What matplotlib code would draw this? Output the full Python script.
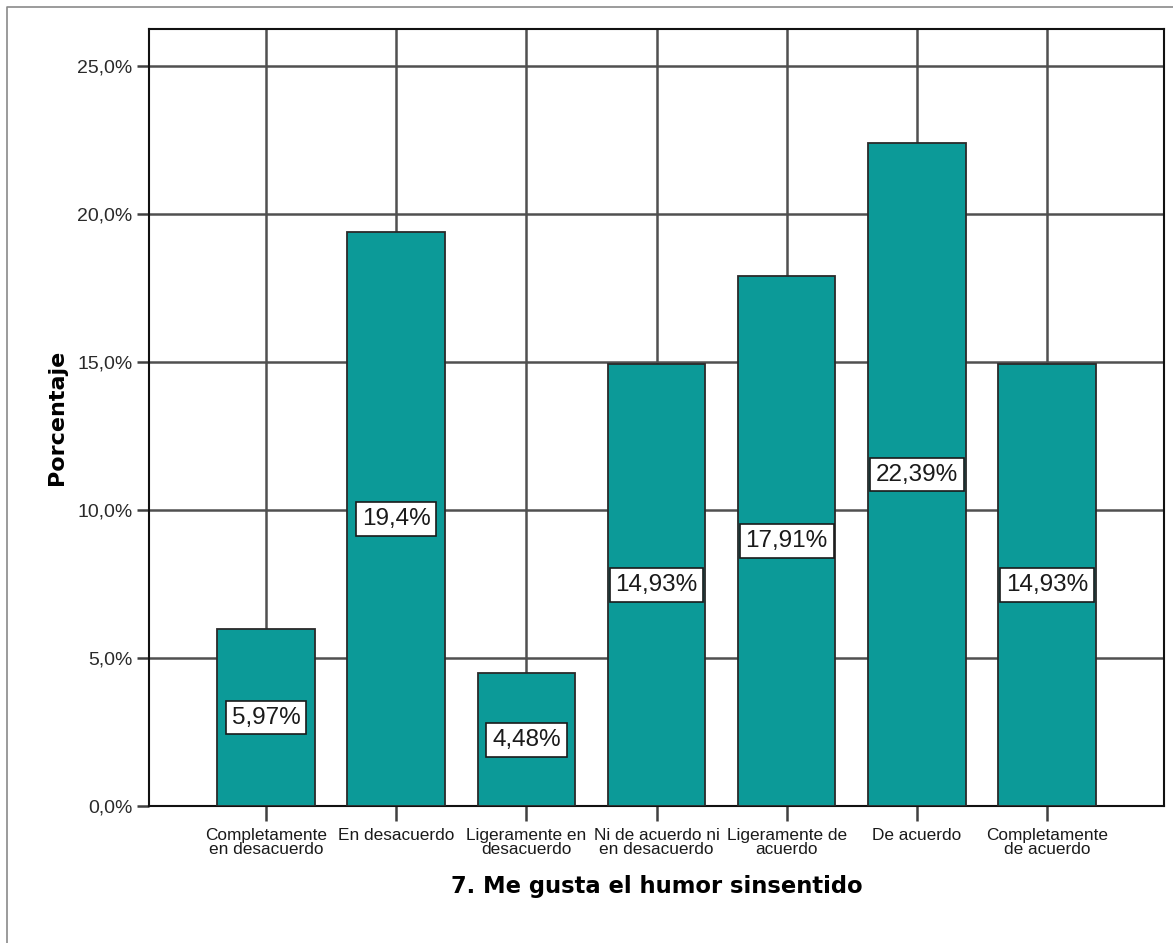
import matplotlib
matplotlib.use("Agg")
import matplotlib.pyplot as plt
from matplotlib.lines import Line2D
from matplotlib.ticker import FuncFormatter

categories = [
    "Completamente\nen desacuerdo",
    "En desacuerdo",
    "Ligeramente en\ndesacuerdo",
    "Ni de acuerdo ni\nen desacuerdo",
    "Ligeramente de\nacuerdo",
    "De acuerdo",
    "Completamente\nde acuerdo",
]
values = [5.97, 19.4, 4.48, 14.93, 17.91, 22.39, 14.93]
value_labels = ["5,97%", "19,4%", "4,48%", "14,93%", "17,91%", "22,39%", "14,93%"]
y_ticks = [0, 5, 10, 15, 20, 25]
x_title = "7. Me gusta el humor sinsentido"
y_title = "Porcentaje"

W, H = 1173, 943
fig = plt.figure(figsize=(W / 100, H / 100), dpi=100)
fig.patch.set_facecolor("white")

# outer frame (top and left visible)
fx = 7 / W
fy = 1 - 7 / H
fig.add_artist(Line2D([fx, fx, 1.0], [0.0, fy, fy], transform=fig.transFigure,
                      color="#8a8a8a", lw=1.2))

left, right, top, bottom = 149 / W, 1164 / W, 29 / H, 806 / H
ax = fig.add_axes([left, 1 - bottom, right - left, bottom - top])

x = list(range(len(categories)))
ax.set_xlim(-0.9, len(categories) - 0.1)
ax.set_ylim(0, 26.25)

ax.set_axisbelow(True)
ax.grid(True, axis="both", color="#505050", lw=1.8)

ax.bar(x, values, width=0.75, color="#0c9a98", edgecolor="#2a2a2a", linewidth=1.3, zorder=3)

for xi, v, lab in zip(x, values, value_labels):
    ax.text(xi, v / 2, lab, ha="center", va="center", fontsize=17.5,
            family="Liberation Sans", color="#1a1a1a", zorder=5,
            bbox=dict(boxstyle="square,pad=0.24", fc="white", ec="#1a1a1a", lw=1.2))

ax.set_yticks(y_ticks)
ax.yaxis.set_major_formatter(FuncFormatter(lambda v, p: f"{v:.1f}".replace(".", ",") + "%"))
ax.set_xticks(x)
ax.set_xticklabels(categories, family="Liberation Sans", fontsize=12.4, linespacing=0.92,
                   color="#1a1a1a")
for t in ax.get_yticklabels():
    t.set_family("Liberation Sans")
    t.set_fontsize(14)
    t.set_color("#2a2a2a")

ax.tick_params(axis="y", length=9, width=1.8, color="#404040", pad=3)
ax.tick_params(axis="x", length=11, width=1.8, color="#404040", pad=5)

for s in ax.spines.values():
    s.set_color("#111111")
    s.set_linewidth(1.5)

ax.set_xlabel(x_title, fontsize=16.3, fontweight="bold", family="DejaVu Sans", labelpad=13)
ax.set_ylabel(y_title, fontsize=16, fontweight="bold", family="DejaVu Sans", labelpad=7)

fig.savefig("out.png", dpi=100, facecolor="white")
